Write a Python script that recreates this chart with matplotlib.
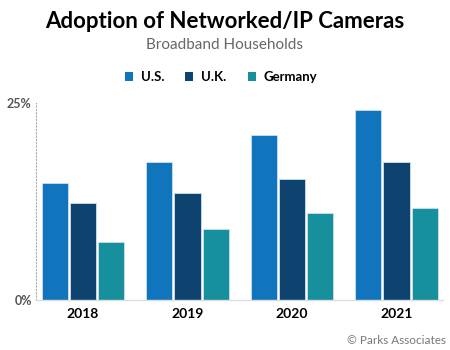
import numpy as np
import matplotlib.pyplot as plt
from matplotlib.patches import Patch

# === Data ===
years = ["2018", "2019", "2020", "2021"]
us = [14.9, 17.5, 20.9, 24.1]
uk = [12.3, 13.6, 15.4, 17.5]
germany = [7.4, 9.0, 11.0, 11.7]
series_names = ["U.S.", "U.K.", "Germany"]
colors = ["#1075BC", "#0D436E", "#15909C"]

plt.rcParams['font.family'] = ['Lato', 'DejaVu Sans']

fig = plt.figure(figsize=(4.5, 3.5), dpi=100)
ax = fig.add_axes([36 / 450, 1 - 300 / 350, (443 - 36) / 450, (300 - 103) / 350])

x = np.arange(len(years))
w = 0.25
step = 0.27
for k, (vals, c) in enumerate(zip([us, uk, germany], colors)):
    ax.bar(x + (k - 1) * step, vals, width=w, color=c,
           edgecolor="#cfe0ee", linewidth=0.6)

ax.set_xlim(-0.45, 3.445)
ax.set_ylim(0, 25)
ax.set_yticks([0, 25])
ax.set_yticklabels(["0%", "25%"], fontsize=9, fontweight='bold', color="#555555")
ax.set_xticks(x)
ax.set_xticklabels(years, fontsize=10, fontweight='bold', color="black")
ax.tick_params(axis='both', length=0)
ax.tick_params(axis='y', pad=3)
ax.tick_params(axis='x', pad=6)

for s in ["top", "right"]:
    ax.spines[s].set_visible(False)
ax.spines["left"].set_linestyle((0, (1, 2)))
ax.spines["left"].set_color("#aaaaaa")
ax.spines["left"].set_linewidth(0.8)
ax.spines["bottom"].set_color("#dddddd")
ax.spines["bottom"].set_linewidth(1.0)

# titles
fig.text(0.5, 1 - 22 / 350, "Adoption of Networked/IP Cameras", ha='center', va='center',
         fontsize=16, fontweight='bold', color="black")
fig.text(0.5, 1 - 45 / 350, "Broadband Households", ha='center', va='center',
         fontsize=11, color="#666666")

# legend
handles = [Patch(facecolor=c, edgecolor='none') for c in colors]
leg = fig.legend(handles, series_names, loc='center', bbox_to_anchor=(221 / 450, 1 - 77 / 350),
                 ncol=3, frameon=False, handlelength=0.6, handleheight=0.6,
                 handletextpad=0.6, columnspacing=1.6,
                 prop={'weight': 'bold', 'size': 9.5})

fig.text(446 / 450, 1 - 341 / 350, "© Parks Associates", ha='right', va='center',
         fontsize=8.5, color="#777777")

fig.savefig("out.png", dpi=100)
